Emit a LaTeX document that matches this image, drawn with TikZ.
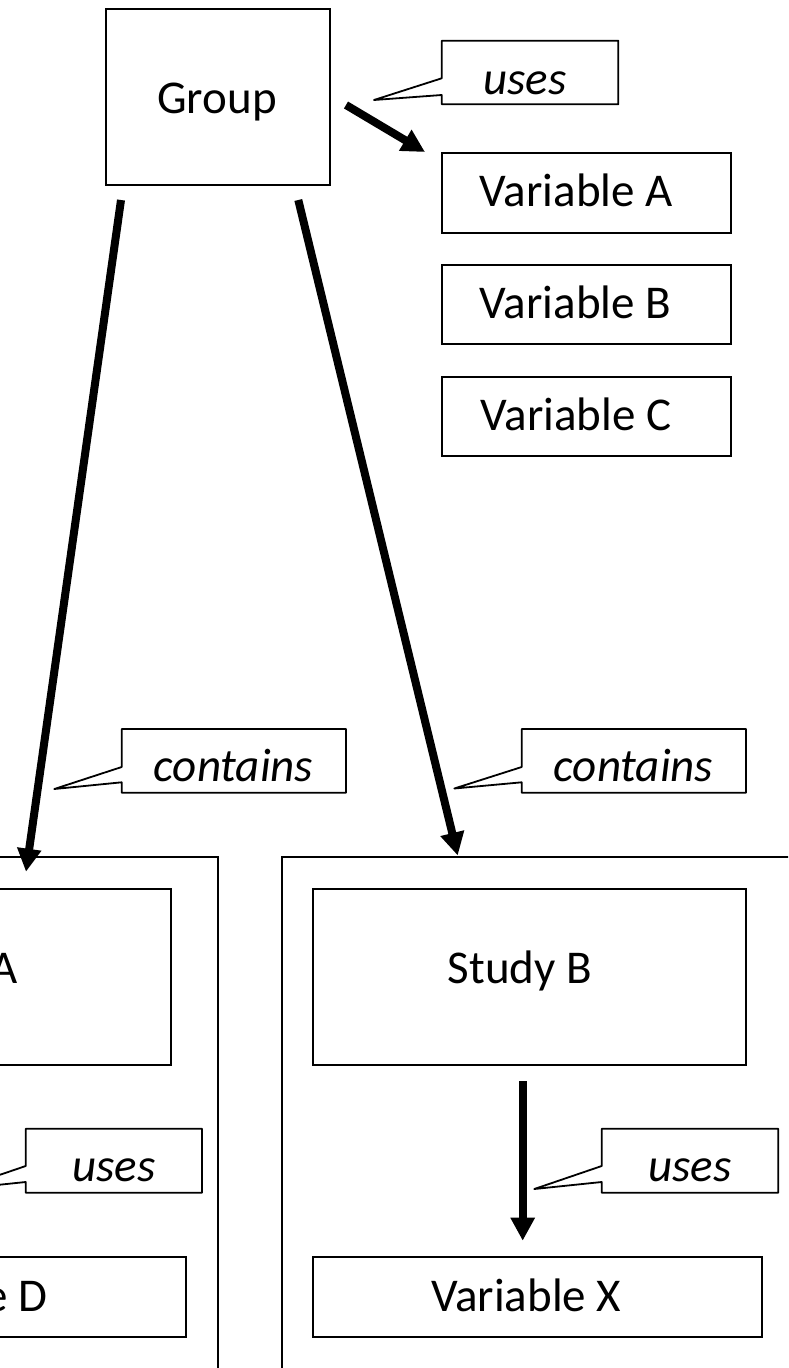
\documentclass[tikz,border=0pt]{standalone}
\usepackage{fontspec}
\setmainfont{Carlito}
\usetikzlibrary{arrows.meta,fit}

\tikzset{
  box/.style={draw=black, line width=1.8pt, inner sep=0pt, outer sep=0pt},
  lbl/.style={anchor=base, inner sep=0pt, font=\fontsize{47}{56}\selectfont},
  cue/.style={anchor=base, inner sep=0pt, font=\fontsize{47}{56}\selectfont\itshape},
  bigarrow/.style={line width=8pt, -{Triangle[length=23pt,width=23pt]}},
  balloon/.style={draw=black, line width=1.8pt, fill=white, line join=round},
}

% rectangle node spanning two corners: name, x1, y1, x2, y2
\newcommand\rectnode[5]{%
  \path (#2,#3) coordinate (#1-nw) (#4,#5) coordinate (#1-se);
  \node[box, fit=(#1-nw)(#1-se)] (#1) {};}

% speech balloon: x1, top, x2, bottom, upper attach, lower attach, tip x, tip y
\newcommand\balloonpath[8]{%
  \draw[balloon] (#1,#2) -- (#3,#2) -- (#3,#4) -- (#1,#4) -- (#1,#6)
    -- (#7,#8) -- (#1,#5) -- cycle;}

\begin{document}
\begin{tikzpicture}[x=1pt,y=-1pt]
  \useasboundingbox (0,0) rectangle (788,1368);
  \clip (0,0) rectangle (788,1368);

  % top level
  \rectnode{group}{105.7}{9}{330}{184.7}
  \node[lbl] (group-t) at (217,113.3) {Group};

  \rectnode{varA}{441.7}{152.7}{730.7}{232.7}
  \node[lbl] (varA-t) at (576.3,206.7) {Variable A};
  \rectnode{varB}{441.7}{264.7}{730.7}{344.3}
  \node[lbl] (varB-t) at (575.5,318.3) {Variable B};
  \rectnode{varC}{441.7}{376.7}{730.7}{456.3}
  \node[lbl] (varC-t) at (576,430) {Variable C};

  % containers for the two studies
  \rectnode{contA}{-293.3}{856.7}{218.3}{1400}
  \rectnode{contB}{281.7}{856.7}{793.3}{1400}

  \rectnode{studyA}{-261.7}{889}{171}{1065}
  \node[lbl] (studyA-t) at (-55,983.3) {Study A};
  \rectnode{studyB}{313.3}{889}{746}{1065}
  \node[lbl] (studyB-t) at (520,983.3) {Study B};

  \rectnode{varD}{-263}{1257.3}{186}{1336.7}
  \node[lbl] (varD-t) at (-50.3,1311.7) {Variable D};
  \rectnode{varX}{313.3}{1257.3}{762.3}{1336.7}
  \node[lbl] (varX-t) at (526.2,1311.7) {Variable X};

  % relation labels
  \balloonpath{441.7}{40.7}{618.3}{104.3}{78.3}{95}{374}{100}
  \node[cue] (uses-top) at (525,94) {uses};

  \balloonpath{121.7}{729}{346}{792.7}{767}{782.3}{54.3}{789}
  \node[cue] (contains-l) at (233.5,781.7) {contains};

  \balloonpath{521.7}{729}{746}{792.7}{767}{782.3}{454.3}{788.5}
  \node[cue] (contains-r) at (633.5,781.7) {contains};

  \balloonpath{25.7}{1128.7}{202}{1192.7}{1166}{1182}{-41.7}{1189}
  \node[cue] (uses-a) at (114,1181.7) {uses};

  \balloonpath{601.7}{1128.7}{778.3}{1192.7}{1166}{1182}{534.3}{1189}
  \node[cue] (uses-b) at (690,1181.7) {uses};

  % connectors
  \coordinate (gA-s) at (346,105);
  \coordinate (gA-e) at (425,152);
  \draw[bigarrow] (gA-s) -- (gA-e);

  \coordinate (gL-s) at (121,200);
  \coordinate (gL-e) at (26,871.7);
  \draw[bigarrow] (gL-s) -- (gL-e);

  \coordinate (gR-s) at (298.3,200);
  \coordinate (gR-e) at (457.7,855.5);
  \draw[bigarrow] (gR-s) -- (gR-e);

  \coordinate (sB-s) at (522.7,1081);
  \coordinate (sB-e) at (522.7,1240.7);
  \draw[bigarrow] (sB-s) -- (sB-e);
\end{tikzpicture}
\end{document}
